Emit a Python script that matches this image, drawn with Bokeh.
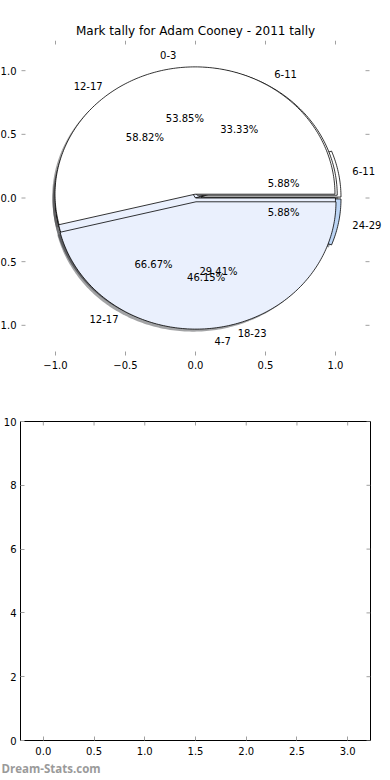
import numpy as np
from bokeh.plotting import figure
from bokeh.models import ColumnDataSource, FixedTicker, Range1d, Title
from bokeh.embed import file_html
from bokeh.resources import INLINE

# ---------------- data ----------------
title_text = "Mark tally for Adam Cooney - 2011 tally"
pie_a_labels = ["0-3", "4-7"]
pie_a_values = [7, 6]
pie_b_labels = ["6-11", "12-17"]
pie_b_values = [1, 2]
pie_c_labels = ["6-11", "12-17", "18-23", "24-29"]
pie_c_values = [1, 10, 5, 1]
pie_ticks = [-1.0, -0.5, 0.0, 0.5, 1.0]
pie_tick_labels = ["\u22121.0", "\u22120.5", "0.0", "0.5", "1.0"]
bar_x_ticks = [0.0, 0.5, 1.0, 1.5, 2.0, 2.5, 3.0]
bar_y_ticks = [0, 2, 4, 6, 8, 10]
watermark = "Dream-Stats.com"

# ---------------- styles ----------------
pie_a_colors = ["#ffffff", "#eaf0fd"]
pie_b_colors = ["#ffffff", "#eaf0fd"]
pie_c_colors = ["#ffffff", "#eaf0fd", "#eaf0fd", "#bcd5f5"]
pie_a_explode = [0.03, 0.03]
pie_b_explode = [0.025, 0.0]
pie_c_explode = [0.04, 0.0, 0.0, 0.04]
PIE_AXES_HALF_WIDTH = 1.243   # extent of the (invisible) pie axes box
PIE_VIEW_HALF_WIDTH = 1.393   # visible data width of the whole top panel
FONT = "DejaVu Sans"
TICK_COLOR = "#a0a0a0"


def shade(hex_color, k=0.3):
    h = hex_color.lstrip("#")
    r, g, b = (int(h[i:i + 2], 16) for i in (0, 2, 4))
    return "#%02x%02x%02x" % (int(r * k), int(g * k), int(b * k))


def pie_geometry(values, labels, colors, explode, radius=1.0):
    vals = np.asarray(values, dtype=float)
    fracs = vals / vals.sum()
    out = dict(xs=[], ys=[], sx=[], sy=[], color=[], scolor=[],
               lx=[], ly=[], la=[], ltext=[], px=[], py=[], ptext=[])
    t1 = 0.0
    for frac, lab, col, ex in zip(fracs, labels, colors, explode):
        t2 = t1 + frac
        tm = np.pi * (t1 + t2)
        cx, cy = ex * np.cos(tm), ex * np.sin(tm)
        n = max(int(abs(t2 - t1) * 360) + 2, 3)
        ang = np.linspace(2 * np.pi * t1, 2 * np.pi * t2, n)
        xs = np.concatenate([[cx], cx + radius * np.cos(ang), [cx]])
        ys = np.concatenate([[cy], cy + radius * np.sin(ang), [cy]])
        out["xs"].append(list(xs)); out["ys"].append(list(ys))
        out["sx"].append(list(xs - 0.02)); out["sy"].append(list(ys - 0.02))
        out["color"].append(col); out["scolor"].append(shade(col))
        xt = cx + 1.1 * radius * np.cos(tm)
        yt = cy + 1.1 * radius * np.sin(tm)
        out["lx"].append(float(xt)); out["ly"].append(float(yt))
        out["la"].append("left" if xt > 0 else "right")
        out["ltext"].append(lab)
        out["px"].append(float(cx + 0.6 * radius * np.cos(tm)))
        out["py"].append(float(cy + 0.6 * radius * np.sin(tm)))
        out["ptext"].append("%.2f%%" % (100 * frac))
        t1 = t2
    return out


pies = [
    pie_geometry(pie_c_values, pie_c_labels, pie_c_colors, pie_c_explode),
    pie_geometry(pie_b_values, pie_b_labels, pie_b_colors, pie_b_explode),
    pie_geometry(pie_a_values, pie_a_labels, pie_a_colors, pie_a_explode),
]


def tick_rays(p, xs, ys, angle):
    p.ray(x=xs, y=ys, length=4, length_units="screen", angle=angle, angle_units="deg",
          line_color=TICK_COLOR, line_width=1)


# ---------------- top: pies ----------------
p1 = figure(width=390, height=390, output_backend="svg", toolbar_location=None,
            x_range=Range1d(-PIE_VIEW_HALF_WIDTH, PIE_VIEW_HALF_WIDTH),
            y_range=Range1d(-1.237, 1.237), y_axis_location=None,
            min_border_left=0, min_border_right=0, min_border_top=40, min_border_bottom=35,
            title=title_text,
            styles={"position": "absolute", "left": "0px", "top": "0px"})
p1.title.text_font = FONT
p1.title.text_font_size = "12px"
p1.title.text_font_style = "normal"
p1.title.align = "center"
p1.title.text_color = "black"
p1.title.standoff = 6
p1.outline_line_color = None
p1.grid.visible = False

p1.xaxis.ticker = FixedTicker(ticks=pie_ticks)
p1.xaxis.major_label_overrides = {t: s for t, s in zip(pie_ticks, pie_tick_labels)}
xa = p1.xaxis[0]
xa.axis_line_color = None
xa.major_tick_in = 4
xa.major_tick_out = 0
xa.major_tick_line_color = TICK_COLOR
xa.minor_tick_line_color = None
xa.major_label_text_font = FONT
xa.major_label_text_font_size = "10px"
xa.major_label_text_color = "black"
xa.major_label_standoff = 5

n = len(pie_ticks)
tick_rays(p1, pie_ticks, [p1.y_range.end] * n, -90)
tick_rays(p1, [-PIE_AXES_HALF_WIDTH] * n, pie_ticks, 0)
tick_rays(p1, [PIE_AXES_HALF_WIDTH] * n, pie_ticks, 180)

# left tick labels (cropped at the image edge like the original)
ylab = ColumnDataSource(dict(x=[-PIE_AXES_HALF_WIDTH] * n, y=pie_ticks, text=pie_tick_labels))
p1.text(x="x", y="y", text="text", x_offset=-5, text_align="right", text_baseline="middle",
        text_font={"value": FONT}, text_font_size="10px", text_color="black", source=ylab)

for g in pies:
    p1.patches(xs=g["sx"], ys=g["sy"], fill_color=g["scolor"], fill_alpha=0.5, line_color=None)
for g in pies:
    src = ColumnDataSource(dict(xs=g["xs"], ys=g["ys"], color=g["color"]))
    p1.patches(xs="xs", ys="ys", fill_color="color", line_color="black", line_width=0.8, source=src)
for g in pies:
    ls = ColumnDataSource(dict(x=g["lx"], y=g["ly"], text=g["ltext"], align=g["la"]))
    p1.text(x="x", y="y", text="text", text_align="align", text_baseline="middle",
            text_font_size="10px", text_font={"value": FONT}, text_color="black", source=ls)
    ps = ColumnDataSource(dict(x=g["px"], y=g["py"], text=g["ptext"]))
    p1.text(x="x", y="y", text="text", text_align="center", text_baseline="middle",
            text_font_size="10px", text_font={"value": FONT}, text_color="black", source=ps)

# ---------------- bottom: empty axes ----------------
p2 = figure(width=390, height=390, output_backend="svg", toolbar_location=None,
            x_range=Range1d(-0.225, 3.225), y_range=Range1d(0, 10),
            min_border_left=19, min_border_right=20, min_border_top=31, min_border_bottom=40,
            styles={"position": "absolute", "left": "0px", "top": "390px"})
p2.outline_line_color = "black"
p2.outline_line_width = 1
p2.grid.visible = False
p2.xaxis.ticker = FixedTicker(ticks=bar_x_ticks)
p2.yaxis.ticker = FixedTicker(ticks=bar_y_ticks)
p2.xaxis.major_label_overrides = {t: "%.1f" % t for t in bar_x_ticks}
for ax in (p2.xaxis[0], p2.yaxis[0]):
    ax.axis_line_color = None
    ax.major_tick_in = 4
    ax.major_tick_out = 0
    ax.major_tick_line_color = TICK_COLOR
    ax.minor_tick_line_color = None
    ax.major_label_text_font = FONT
    ax.major_label_text_font_size = "10px"
    ax.major_label_text_color = "black"
    ax.major_label_standoff = 4
p2.xaxis.major_label_standoff = 6
tick_rays(p2, bar_x_ticks, [p2.y_range.end] * len(bar_x_ticks), -90)
tick_rays(p2, [p2.x_range.end] * len(bar_y_ticks), bar_y_ticks, 180)
wm = Title(text=watermark, align="left", text_color="#9a9a9a", text_font="Open Sans",
           text_font_size="11.5px", text_font_style="bold", offset=-19, standoff=2)
p2.add_layout(wm, "below")

open("out.html", "w").write(file_html([p1, p2], INLINE))
